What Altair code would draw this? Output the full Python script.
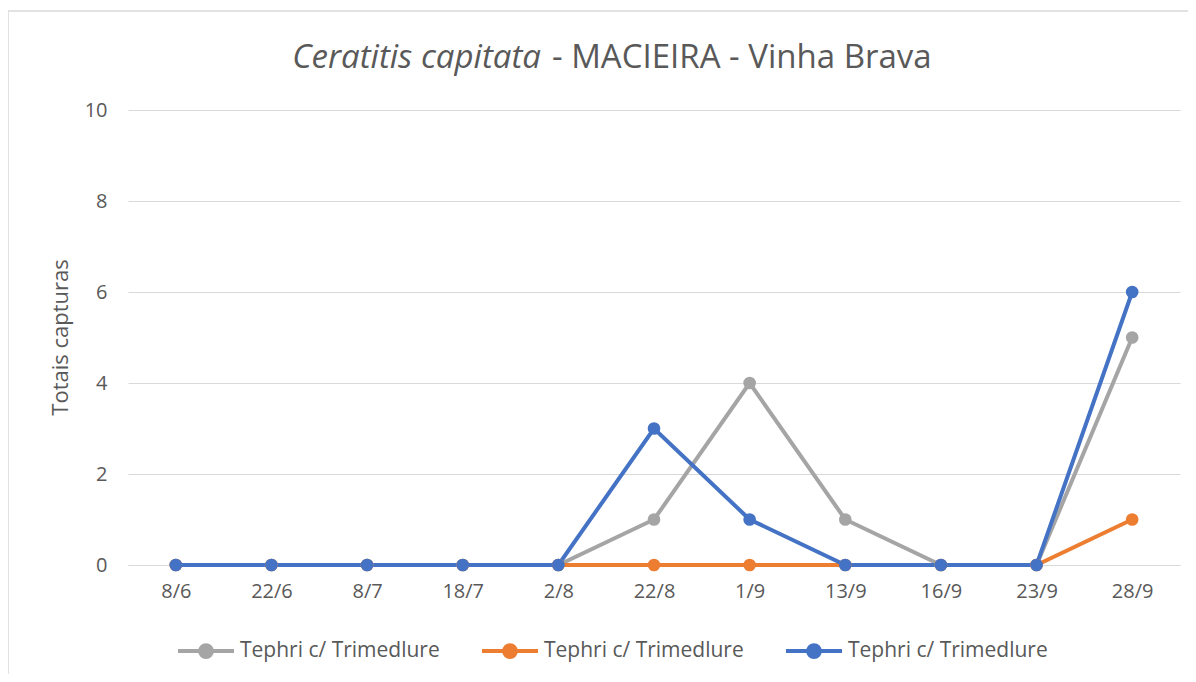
import altair as alt
import pandas as pd

dates = ["8/6", "22/6", "8/7", "18/7", "2/8", "22/8", "1/9", "13/9", "16/9", "23/9", "28/9"]
series_keys = ["s1", "s2", "s3"]
series_label = "Tephri c/ Trimedlure"
gray_vals = [0, 0, 0, 0, 0, 1, 4, 1, 0, 0, 5]
orange_vals = [0, 0, 0, 0, 0, 0, 0, 0, 0, 0, 1]
blue_vals = [0, 0, 0, 0, 0, 3, 1, 0, 0, 0, 6]
colors = ["#A5A5A5", "#ED7D31", "#4472C4"]
y_ticks = [0, 2, 4, 6, 8, 10]
title_italic = "Ceratitis capitata"
title_rest = "- MACIEIRA - Vinha Brava"
y_title = "Totais capturas"

rows = []
for key, vals in zip(series_keys, [gray_vals, orange_vals, blue_vals]):
    for i, (d, v) in enumerate(zip(dates, vals)):
        rows.append({"date": d, "value": v, "series": key, "ord": i})
df = pd.DataFrame(rows)

FONT = "Open Sans"
TXT = "#595959"
GRID = "#D9D9D9"

x_enc = alt.X("date:N", sort=dates, scale=alt.Scale(type="point", padding=0.5),
              axis=alt.Axis(title=None, labelFontSize=20, labelColor=TXT, labelFont=FONT,
                            labelPadding=16, ticks=False, domain=True, domainColor=GRID,
                            domainWidth=1, labelAngle=0, grid=False))
y_enc = alt.Y("value:Q", scale=alt.Scale(domain=[0, 10], nice=False),
              axis=alt.Axis(values=y_ticks, title=y_title, titleFontSize=22, titleFont=FONT,
                            titleColor=TXT, titleFontWeight="normal", titleX=-68, titleY=227,
                            titleAngle=-90, titleAlign="center", titleBaseline="middle",
                            labelFontSize=20, labelColor=TXT, labelFont=FONT, labelPadding=21,
                            ticks=False, domain=False, gridColor=GRID, gridWidth=1))

legend_path = ("M-1,0L1,0M-0.21,0A0.21,0.21 0 1,0 0.21,0A0.21,0.21 0 1,0 -0.21,0Z")
color_enc = alt.Color("series:N", scale=alt.Scale(domain=series_keys, range=colors),
                      legend=alt.Legend(title=None, orient="none", direction="horizontal",
                                        legendX=48, legendY=511, symbolType=legend_path,
                                        symbolSize=3136, symbolStrokeWidth=4,
                                        labelExpr="'" + series_label + "'",
                                        labelFontSize=21, labelFont=FONT, labelColor=TXT,
                                        labelLimit=400,
                                        labelOffset=4, columnPadding=34, symbolOpacity=1))

lines = alt.Chart(df).mark_line(strokeWidth=4).encode(
    x=x_enc, y=y_enc, color=color_enc, order="ord:Q")
points = alt.Chart(df).mark_circle(size=160, opacity=1).encode(
    x=alt.X("date:N", sort=dates), y="value:Q", color=alt.Color("series:N"))

one = pd.DataFrame({"a": [0]})
title_it = alt.Chart(one).mark_text(text=title_italic, font=FONT, fontSize=33, fontStyle="italic",
                                    color=TXT, align="right", baseline="alphabetic").encode(
    x=alt.value(413), y=alt.value(-42))
title_nm = alt.Chart(one).mark_text(text=title_rest, font=FONT, fontSize=33,
                                    color=TXT, align="left", baseline="alphabetic").encode(
    x=alt.value(424), y=alt.value(-42))
border_top = alt.Chart(one).mark_rule(color=GRID, strokeWidth=1.5).encode(
    x=alt.value(-120), x2=alt.value(1060), y=alt.value(-99))
border_left = alt.Chart(one).mark_rule(color=GRID, strokeWidth=1.5).encode(
    x=alt.value(-120), y=alt.value(-99), y2=alt.value(564))

chart = alt.layer(border_top, border_left, lines, points, title_it, title_nm).properties(
    width=1052, height=455,
    padding={"left": 120, "top": 102, "right": 8, "bottom": 109},
    autosize=alt.AutoSizeParams(type="none"),
    background="white",
).configure_view(stroke=None)

chart.save("out.html", embed_options={"renderer": "svg", "actions": False})
